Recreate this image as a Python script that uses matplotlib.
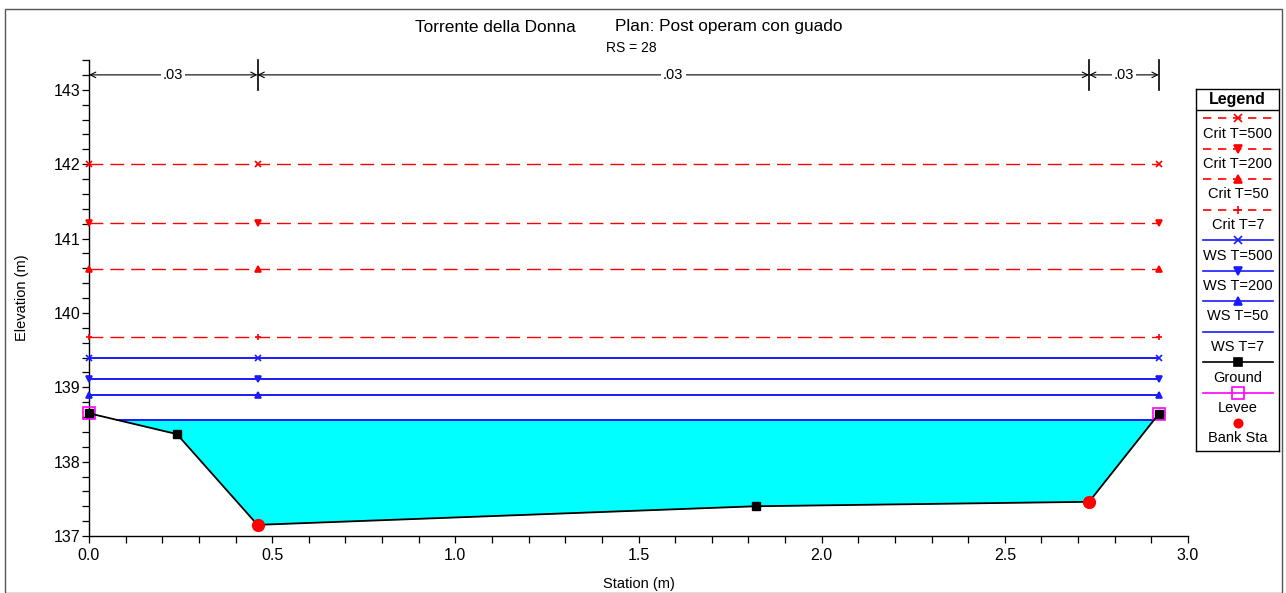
import numpy as np
import matplotlib
matplotlib.use('Agg')
import matplotlib.pyplot as plt
from matplotlib.patches import Rectangle
from matplotlib.ticker import MultipleLocator

plt.rcParams['font.family'] = ['Liberation Sans', 'DejaVu Sans']

# cross-section geometry
ground_x = [0.0, 0.24, 0.46, 1.82, 2.73, 2.92]
ground_y = [138.65, 138.37, 137.15, 137.40, 137.46, 138.64]
bank_x = [0.46, 2.73]
bank_y = [137.15, 137.46]
levee_x = [0.0, 2.92]
levee_y = [138.65, 138.64]

# water surface and critical elevations
profiles = ['Crit T=500', 'Crit T=200', 'Crit T=50', 'Crit T=7',
            'WS T=500', 'WS T=200', 'WS T=50', 'WS T=7']
elevations = [142.00, 141.21, 140.59, 139.67, 139.39, 139.11, 138.89, 138.56]
markers = ['x', 'v', '^', '+', 'x', 'v', '^', None]
marker_x = [0.0, 0.46, 2.92]

# manning n values by reach
n_breaks = [0.0, 0.46, 2.73, 2.92]
n_values = ['.03', '.03', '.03']

W, H = 1286, 593
fig = plt.figure(figsize=(W / 100, H / 100), dpi=100)
ax = fig.add_axes([89 / W, (H - 536) / H, (1188 - 89) / W, (536 - 60) / H])

gx = np.array(ground_x)
gy = np.array(ground_y)


def crossings(level):
    pts = []
    for i in range(len(gx) - 1):
        y0, y1 = gy[i] - level, gy[i + 1] - level
        if y0 * y1 < 0:
            pts.append(gx[i] + (gx[i + 1] - gx[i]) * y0 / (y0 - y1))
    return pts[0], pts[-1]


ws7 = elevations[-1]
ax.fill_between(gx, gy, ws7, where=gy < ws7, interpolate=True,
                color='#00ffff', lw=0, zorder=1)

for name, elev, mk in zip(profiles, elevations, markers):
    if name.startswith('Crit'):
        ax.plot([0, 2.92], [elev, elev], color='red', lw=1, ls=(0, (10, 5)), zorder=2)
        ax.plot(marker_x, [elev] * 3, ls='none', marker=mk, color='red', ms=5,
                mew=1.2, zorder=3, clip_on=False)
    elif mk is not None:
        ax.plot([0, 2.92], [elev, elev], color='#1a1aff', lw=1.4, zorder=2)
        ax.plot(marker_x, [elev] * 3, ls='none', marker=mk, color='#1a1aff', ms=5,
                mew=1.2, zorder=3, clip_on=False)
    else:
        xl, xr = crossings(elev)
        ax.plot([xl, xr], [elev, elev], color='#1a1aff', lw=1.4, zorder=2)

ax.plot(levee_x, levee_y, ls='none', marker='s', ms=9, mfc='none', mec='magenta',
        mew=1.2, zorder=4, clip_on=False)
ax.plot(ground_x, ground_y, color='black', lw=1.3, marker='s', ms=6, zorder=5,
        clip_on=False)
ax.plot(bank_x, bank_y, ls='none', marker='o', ms=8.5, color='red', zorder=6,
        clip_on=False)

# n-value dimension lines
dim_y = 143.2
for xb in n_breaks[1:]:
    ax.plot([xb, xb], [143.0, 143.4], color='black', lw=1.2, clip_on=False)
for i, lab in enumerate(n_values):
    a, b = n_breaks[i], n_breaks[i + 1]
    ax.annotate('', xy=(a, dim_y), xytext=(b, dim_y),
                arrowprops=dict(arrowstyle='<->', color='black', lw=0.8,
                                shrinkA=0, shrinkB=0))
    ax.text((a + b) / 2, dim_y, lab, ha='center', va='center', fontsize=10.5,
            bbox=dict(fc='white', ec='none', pad=1.5))

ax.set_xlim(0, 3.0)
ax.set_ylim(137, 143.4)
ax.xaxis.set_major_locator(MultipleLocator(0.5))
ax.xaxis.set_minor_locator(MultipleLocator(0.1))
ax.yaxis.set_major_locator(MultipleLocator(1))
ax.yaxis.set_minor_locator(MultipleLocator(0.2))
ax.xaxis.set_major_formatter(plt.FormatStrFormatter('%.1f'))
ax.tick_params(which='both', direction='out', length=5, width=0.9, labelsize=11.5)
ax.tick_params(axis='y', pad=1)
ax.spines['top'].set_visible(False)
ax.spines['right'].set_visible(False)
ax.spines['left'].set_linewidth(1.0)
ax.spines['bottom'].set_linewidth(1.0)
ax.set_xlabel('Station (m)', fontsize=10.5, labelpad=10)
ax.set_ylabel('Elevation (m)', fontsize=10.5, labelpad=18)

fig.text(415 / W, 1 - 27 / H, 'Torrente della Donna', ha='left', va='center', fontsize=12.4)
fig.text(615 / W, 1 - 27 / H, 'Plan: Post operam con guado', ha='left', va='center', fontsize=12.4)
fig.text(631 / W, 1 - 48 / H, 'RS = 28', ha='center', va='center', fontsize=10)

# outer frame
fig.patches.append(Rectangle((4.5 / W, 0), (1281.5 - 4.5) / W, (H - 8.5) / H,
                             transform=fig.transFigure, fill=False, ec='#555555', lw=1))

# legend panel
lx0, lx1, ly0, ly1 = 1196, 1279, 89, 451
lax = fig.add_axes([lx0 / W, (H - ly1) / H, (lx1 - lx0) / W, (ly1 - ly0) / H])
lax.set_xlim(lx0, lx1)
lax.set_ylim(ly1, ly0)
lax.set_xticks([])
lax.set_yticks([])
for s in lax.spines.values():
    s.set_linewidth(1.0)
lax.text((lx0 + lx1) / 2, 99.5, 'Legend', ha='center', va='center', fontsize=11.5,
         fontweight='bold')
lax.plot([lx0, lx1], [110, 110], color='black', lw=1)

entries = [(p, 'red' if p.startswith('Crit') else '#1a1aff',
            (0, (5, 4)) if p.startswith('Crit') else '-', m, 'full')
           for p, m in zip(profiles, markers)]
entries += [('Ground', 'black', '-', 's', 'full'),
            ('Levee', 'magenta', '-', 's', 'none'),
            ('Bank Sta', 'red', 'none', 'o', 'full')]
for i, (lab, col, ls, mk, fill) in enumerate(entries):
    yy = 118 + i * 30.5
    ms = 6 if mk != 's' or fill == 'full' else 8
    lax.plot([1203, 1273], [yy, yy], color=col, ls=ls, lw=1.2)
    if mk is not None:
        lax.plot([1238], [yy], marker=mk, color=col, ms=ms, mfc=col if fill == 'full' else 'none',
                 mew=1.2, ls='none')
    lax.text(1238, yy + 15.5, lab, ha='center', va='center', fontsize=10.5)

fig.savefig('out.png', dpi=100)
